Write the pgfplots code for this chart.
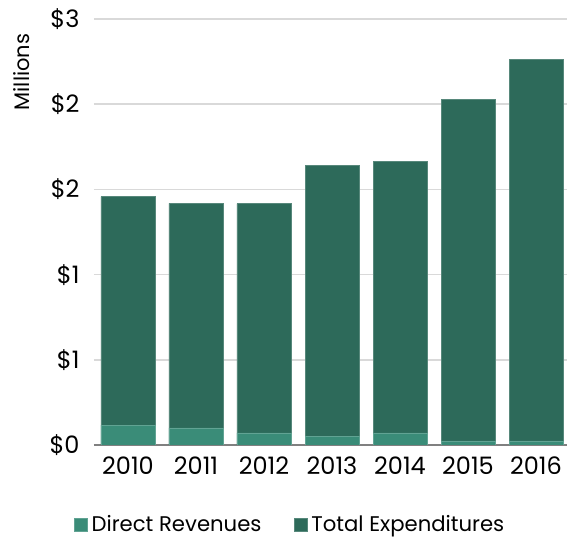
\documentclass[border=0pt]{standalone}
\usepackage{fontspec}
\setmainfont{Poppins}
\usepackage{pgfplots}
\pgfplotsset{compat=1.18}

\definecolor{totalexp}{HTML}{2D6A5A}
\definecolor{directrev}{HTML}{3A8C78}
\definecolor{gridgray}{HTML}{D9D9D9}

\begin{document}
\begin{tikzpicture}
\begin{axis}[
    name=ax,
    width=238pt, height=213pt,
    scale only axis,
    ybar, bar width=27pt, bar shift=0pt,
    xmin=-0.5, xmax=6.5,
    ymin=0, ymax=2.5,
    xtick={0,...,6},
    xticklabels={2010,2011,2012,2013,2014,2015,2016},
    ytick={0,0.5,1,1.5,2,2.5},
    yticklabels={\$0,\$1,\$1,\$2,\$2,\$3},
    ymajorgrids,
    grid style={gridgray, line width=0.8pt},
    axis x line*=bottom,
    axis y line*=left,
    y axis line style={draw=none},
    x axis line style={gray, line width=1pt, -},
    major tick length=0pt,
    tick label style={font=\fontsize{12}{14}\selectfont},
    xticklabel style={anchor=center, yshift=-10.5pt},
    yticklabel style={xshift=-3.7pt},
    legend style={
        at={(rel axis cs:0.414,0)}, anchor=center, yshift=-40pt,
        draw=none, font=\fontsize{10.6}{12}\selectfont,
        legend columns=2,
        /tikz/every even column/.append style={column sep=14pt},
    },
    legend image code/.code={\fill[#1] (0pt,-3.3pt) rectangle (6.6pt,3.3pt);},
    reverse legend,
]
\addplot[fill=totalexp, draw=totalexp!80!white, line width=0.3pt] coordinates {
    (0,1.457)(1,1.418)(2,1.416)(3,1.641)(4,1.663)(5,2.029)(6,2.261)
};
\addlegendentry{Total Expenditures}
\addplot[fill=directrev, draw=directrev!80!white, line width=0.3pt] coordinates {
    (0,0.116)(1,0.100)(2,0.071)(3,0.049)(4,0.071)(5,0.024)(6,0.024)
};
\addlegendentry{Direct Revenues}
\end{axis}
\node[rotate=90, font=\fontsize{10.5}{12}\selectfont] at ([xshift=-36pt,yshift=186.5pt]ax.south west) {Millions};
\pgfresetboundingbox
\path ([xshift=-47pt,yshift=-49.5pt]ax.south west) rectangle ([xshift=-1.5pt,yshift=9.5pt]ax.north east);
\end{tikzpicture}
\end{document}
